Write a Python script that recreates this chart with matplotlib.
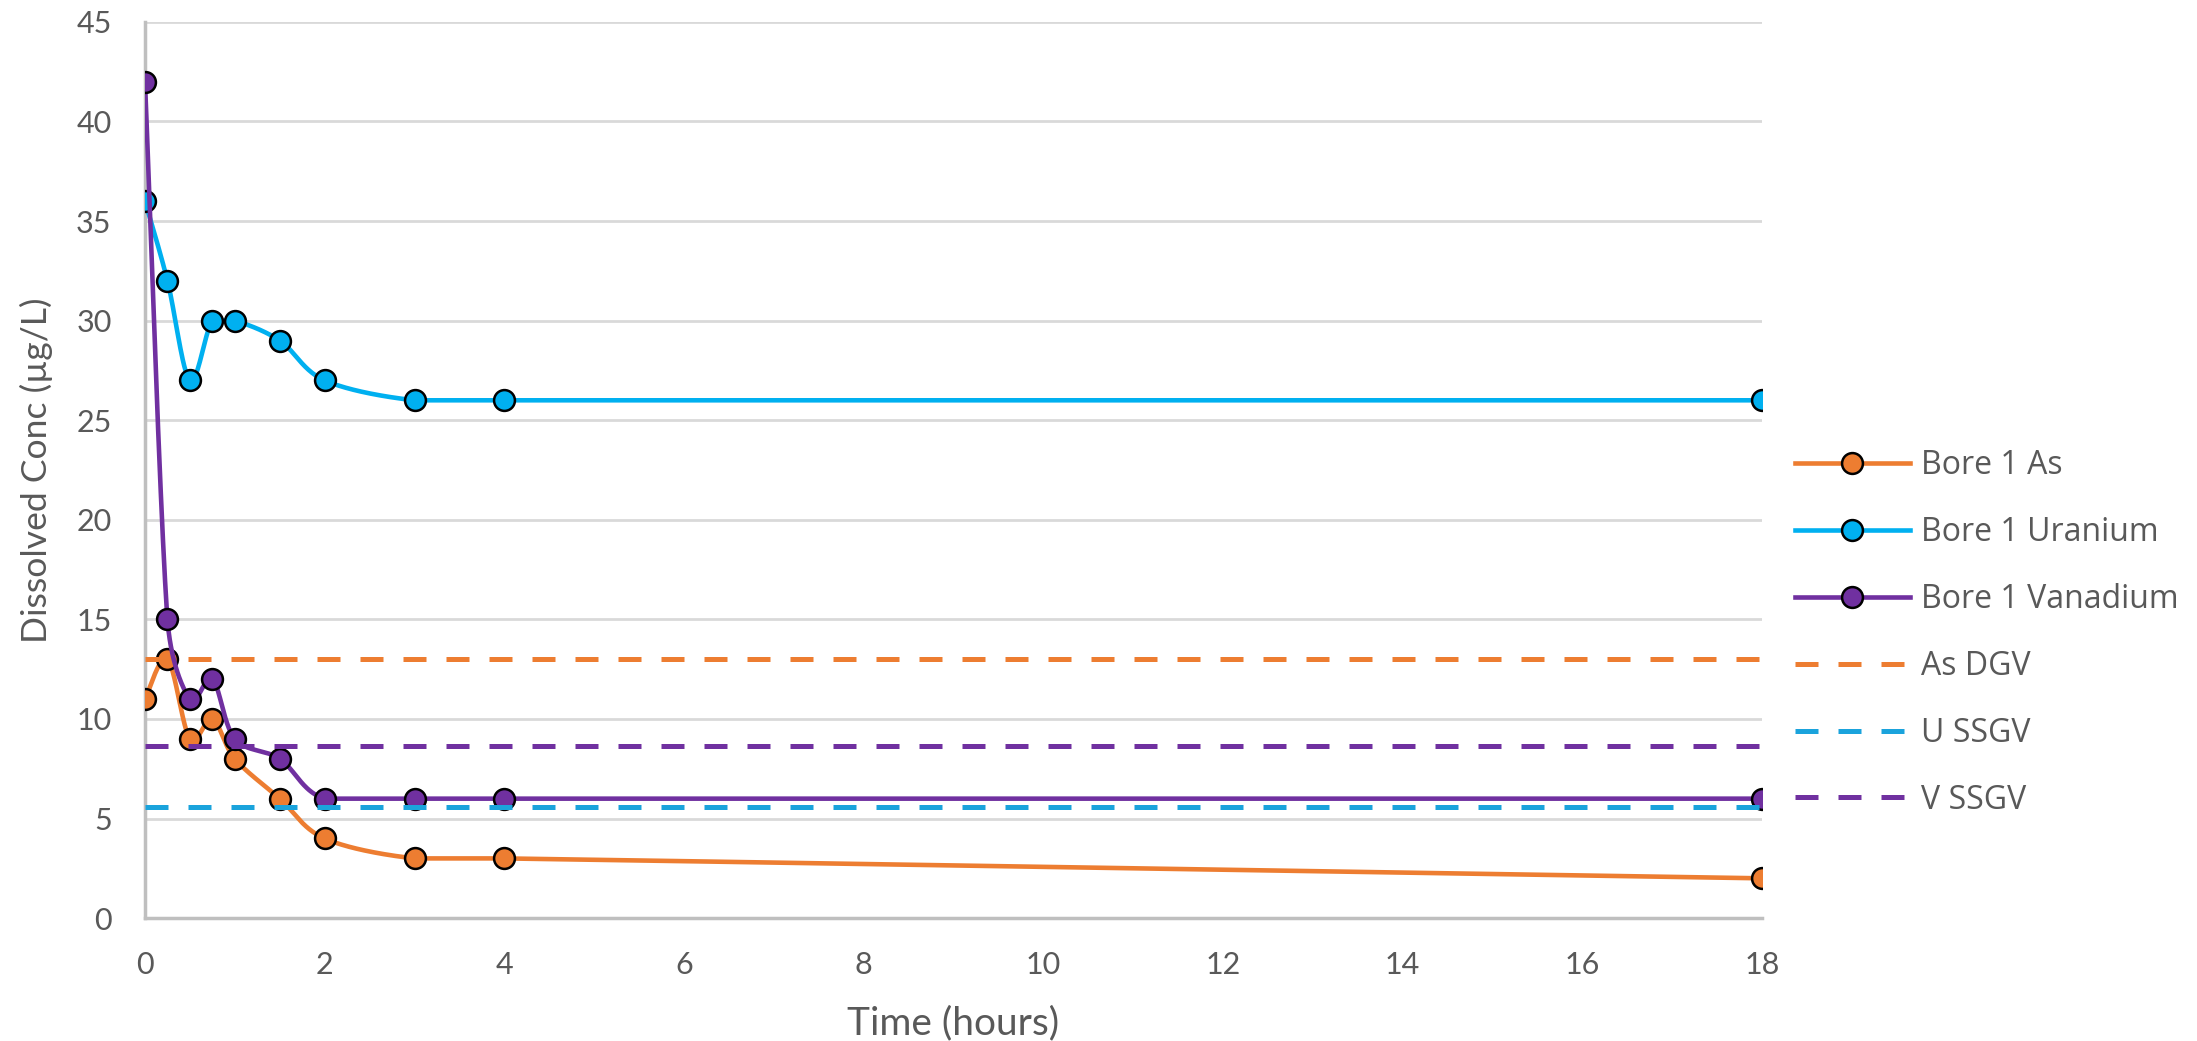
import numpy as np
import matplotlib
matplotlib.use("Agg")
import matplotlib.pyplot as plt
from matplotlib import font_manager

plt.rcParams['font.family'] = ['Lato', 'DejaVu Sans']

# sampling times (hours)
hours = [0, 0.25, 0.5, 0.75, 1, 1.5, 2, 3, 4, 18]
arsenic = [11, 13, 9, 10, 8, 6, 4, 3, 3, 2]
uranium = [36, 32, 27, 30, 30, 29, 27, 26, 26, 26]
vanadium = [42, 15, 11, 12, 9, 8, 6, 6, 6, 6]

# guideline values
guide_x = [0, 18]
as_dgv = 13
u_ssgv = 5.6
v_ssgv = 8.65


def smooth(xs, ys, sx=90.0, sy=19.9, n=60):
    # Excel-ish smoothed line: bezier through the points, tangents
    # clipped so a short segment next to a long one doesn't loop
    p = np.column_stack([np.asarray(xs) * sx, np.asarray(ys) * sy]).astype(float)
    pts = np.vstack([p[0], p, p[-1]])
    out = []
    for i in range(1, len(pts) - 2):
        p0, p1, p2, p3 = pts[i - 1], pts[i], pts[i + 1], pts[i + 2]
        seglen = np.linalg.norm(p2 - p1)
        t1 = (p2 - p0) / 6
        t2 = (p3 - p1) / 6
        for t in (t1, t2):
            L = np.linalg.norm(t)
            if L > seglen / 2:
                t *= (seglen / 2) / L
        if p1[1] == p2[1]:
            # flat run stays flat
            t1[1] = 0
            t2[1] = 0
        b1 = p1 + t1
        b2 = p2 - t2
        t = np.linspace(0, 1, n)[:, None]
        seg = ((1 - t) ** 3) * p1 + 3 * ((1 - t) ** 2) * t * b1 + 3 * (1 - t) * t ** 2 * b2 + t ** 3 * p2
        out.append(seg if i == 1 else seg[1:])
    c = np.vstack(out)
    return c[:, 0] / sx, c[:, 1] / sy


fig = plt.figure(figsize=(21.97, 10.41), dpi=100)
ax = fig.add_axes([0.066, 0.118, 0.736, 0.861])

series = [
    ("Bore 1 As", arsenic, "#ED7D31"),
    ("Bore 1 Uranium", uranium, "#00B0F0"),
    ("Bore 1 Vanadium", vanadium, "#7030A0"),
]
z = 3
for name, vals, col in series:
    sx, sy = smooth(hours, vals)
    ax.plot(sx, sy, color=col, lw=3.3, zorder=z, solid_capstyle='round')
    ax.plot(hours, vals, 'o', color=col, ms=15, mec='black', mew=1.8, zorder=z + 0.5)
    # legend proxy
    ax.plot([], [], '-o', color=col, lw=3.3, ms=15, mec='black', mew=1.8, label=name)
    z += 1

guides = [
    ("As DGV", as_dgv, "#ED7D31"),
    ("U SSGV", u_ssgv, "#1AA3DC"),
    ("V SSGV", v_ssgv, "#7030A0"),
]
for name, val, col in guides:
    ax.plot(guide_x, [val, val], color=col, lw=3.6, dashes=(4.6, 4.0),
            label=name, zorder=z)
    z += 1

ax.set_xlim(0, 18)
ax.set_ylim(0, 45)
ax.set_xticks(np.arange(0, 19, 2))
ax.set_yticks(np.arange(0, 46, 5))
ax.grid(axis='y', color='#d9d9d9', lw=2)
ax.set_axisbelow(True)
for s in ['top', 'right']:
    ax.spines[s].set_visible(False)
for s in ['left', 'bottom']:
    ax.spines[s].set_color('#bfbfbf')
    ax.spines[s].set_linewidth(2.5)
ax.tick_params(length=0, labelsize=22, labelcolor='#595959')
ax.tick_params(axis='x', pad=24)
ax.tick_params(axis='y', pad=24)

# condensed face for the y title if there is one
try:
    font_manager.findfont('Liberation Sans Narrow', fallback_to_default=False)
    ylab_font = 'Liberation Sans Narrow'
except ValueError:
    ylab_font = 'Lato'

ax.set_xlabel("Time (hours)", fontsize=28, color='#595959')
ax.set_ylabel("Dissolved Conc (µg/L)", fontsize=30, color='#595959', family=ylab_font)
ax.xaxis.set_label_coords(0.5, -0.117)
ax.xaxis.label.set_va('center')
ax.yaxis.set_label_coords(-0.0674, 0.5)
ax.yaxis.label.set_va('center')

# fit the y title to ~340 px long, as in the original
fig.canvas.draw()
h = ax.yaxis.label.get_window_extent().height
ax.yaxis.label.set_fontsize(30 * 345 / h)

fig.legend(loc='center left', bbox_to_anchor=(0.817, 0.392), frameon=False,
           prop={'family': 'Open Sans', 'size': 23}, labelcolor='#595959',
           handlelength=3.6, handletextpad=0.35,
           labelspacing=1.06, borderpad=0, borderaxespad=0, numpoints=1)

fig.savefig("out.png", dpi=100)
